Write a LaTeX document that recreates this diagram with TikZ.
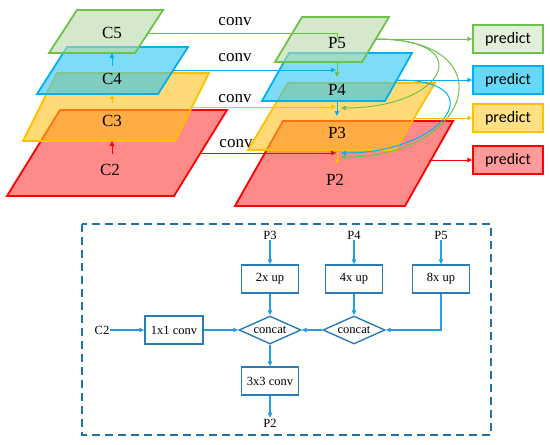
\documentclass[tikz,border=0pt]{standalone}
\usepackage{fontspec}
\setmainfont{Liberation Serif}
\newfontfamily\predfont{Carlito}
\usetikzlibrary{arrows.meta, positioning, shapes.geometric, calc}
\definecolor{cgreen}{HTML}{6CC24A}
\definecolor{cgreenf}{HTML}{B9D9AA}
\definecolor{cgreenp}{HTML}{E2F0D9}
\definecolor{cblue}{HTML}{00B0F0}
\definecolor{cbluef}{HTML}{2AC5F3}
\definecolor{cbluep}{HTML}{66D9F8}
\definecolor{cyellow}{HTML}{FFC000}
\definecolor{cyellowf}{HTML}{FFC21A}
\definecolor{cyellowp}{HTML}{FFE082}
\definecolor{cred}{HTML}{FF0000}
\definecolor{credf}{HTML}{FF3C3C}
\definecolor{credp}{HTML}{FF9A9A}
\definecolor{cbox}{HTML}{2A7DB4}
\definecolor{cflow}{HTML}{1FA0E0}
\definecolor{cframe}{HTML}{2272A8}
\tikzset{
  plane/.style={draw=c#1, fill=c#1f, fill opacity=0.6, line width=1.8pt},
  lbl/.style={font=\fontsize{17}{19}\selectfont, inner sep=2pt},
  link/.style={draw=#1, line width=1pt, -{Triangle[length=5pt, width=4.5pt]}},
  pred/.style={draw=c#1, fill=c#1p, line width=1.5pt, minimum width=70pt, minimum height=28pt, inner sep=0pt, font=\predfont\fontsize{16}{18}\selectfont},
  small/.style={font=\fontsize{12.5}{14}\selectfont, inner sep=1pt},
  opbox/.style={draw=cbox, line width=1.4pt, minimum width=57pt, minimum height=28pt, inner sep=0pt, font=\fontsize{12.5}{14}\selectfont},
  opdia/.style={diamond, draw=cbox, line width=1.4pt, minimum width=62pt, minimum height=28pt, aspect=2.2, inner sep=0pt, font=\fontsize{12.5}{14}\selectfont},
  flow/.style={draw=cflow, line width=1.1pt, -{Triangle[length=5pt, width=4.5pt]}},
  frame/.style={draw=cframe, line width=1.8pt, dash pattern=on 8pt off 5pt},
}
% one feature map: colour, top-left x, top y, bottom-left x, bottom y, width
\newcommand{\layer}[6]{\draw[plane=#1] (#2,#3) -- ++(#6,0) -- ({#4+#6},#5) -- (#4,#5) -- cycle;}

\begin{document}
\begin{tikzpicture}[x=1pt, y=-1pt]
  \useasboundingbox (0,0) rectangle (550,445);
  % backbone
  \layer{red}{60}{110}{7}{196}{167}
  \layer{yellow}{57}{73}{23}{141}{152}
  \layer{blue}{67}{47}{37}{94}{121}
  \layer{green}{77}{10}{49}{53}{86}
  \node[lbl] (c2) at (110,170) {C2};
  \node[lbl] (c3) at (112,121) {C3};
  \node[lbl] (c4) at (112,79) {C4};
  \node[lbl] (c5) at (112,33) {C5};
  \coordinate (c2up) at (112,154); \coordinate (c3lo) at (112,141);
  \coordinate (c3up) at (112,103); \coordinate (c4lo) at (112,94);
  \coordinate (c4up) at (112,66);  \coordinate (c5lo) at (112,53);
  \draw[link=cred] (c2up) -- (c3lo);
  \draw[link=cyellow] (c3up) -- (c4lo);
  \draw[link=cblue] (c4up) -- (c5lo);
  % pyramid
  \layer{red}{283}{121}{235}{206}{170}
  \layer{yellow}{288}{83}{248}{150}{147}
  \layer{blue}{289}{53}{262}{101}{123}
  \layer{green}{302}{17}{275}{62}{87}
  \node[lbl] (p2) at (335,180) {P2};
  \node[lbl] (p3) at (337,133) {P3};
  \node[lbl] (p4) at (337,90) {P4};
  \node[lbl] (p5) at (337,43) {P5};
  % lateral conv
  \coordinate (c5e) at (149,33); \coordinate (c4e) at (173,70);
  \coordinate (c3e) at (191,107); \coordinate (c2e) at (200,153);
  \coordinate (p5top) at (337,38); \coordinate (p4in) at (336,70);
  \coordinate (p3in) at (336,107); \coordinate (p2in) at (336,153);
  \draw[link=cgreen, -] (c5e) -| (p5top);
  \draw[link=cblue] (c4e) -- (p4in);
  \draw[link=cyellow] (c3e) -- (p3in);
  \draw[link=cred] (c2e) -- (p2in);
  \node[lbl] (k5) at (235,22) {conv};
  \node[lbl] (k4) at (235,58) {conv};
  \node[lbl] (k3) at (235,99) {conv};
  \node[lbl] (k2) at (236,144) {conv};
  % top-down
  \coordinate (p5lo) at (337,62);  \coordinate (p4hi) at (337,77);
  \coordinate (p4lo) at (337,101); \coordinate (p3hi) at (337,116);
  \coordinate (p3lo) at (337,150); \coordinate (p2hi) at (337,164);
  \draw[link=cgreen] (p5lo) -- (p4hi);
  \draw[link=cblue] (p4lo) -- (p3hi);
  \draw[link=cyellow] (p3lo) -- (p2hi);
  \coordinate (p5r) at (376,39); \coordinate (p4r) at (397,80);
  \coordinate (p3r) at (414,118); \coordinate (p2r) at (429,160);
  \coordinate (p3c) at (341,108); \coordinate (p2c) at (341,153); \coordinate (p2g) at (341,157);
  \draw[link=cgreen] (p5r) .. controls (480,39) and (445,108) .. (p3c);
  \draw[link=cgreen] (p5r) .. controls (506,39) and (474,157) .. (p2g);
  \draw[link=cblue] (p4r) .. controls (496,80) and (444,153) .. (p2c);
  % heads
  \node[pred=green] (pr5) at (508,39) {predict};
  \node[pred=blue] (pr4) at (508,80) {predict};
  \node[pred=yellow] (pr3) at (508,118) {predict};
  \node[pred=red] (pr2) at (508,160) {predict};
  \draw[link=cgreen] (p5r) -- (p5r -| pr5.west);
  \draw[link=cblue] (p4r) -- (p4r -| pr4.west);
  \draw[link=cyellow] (p3r) -- (p3r -| pr3.west);
  \draw[link=cred] (p2r) -- (p2r -| pr2.west);
  % fusion detail
  \draw[frame] (82,224) rectangle (491,435);
  \node[small] (b3) at (270,235) {P3};
  \node[opbox] (up2) at (270,279) {2x up};
  \node[opdia] (cat1) at (270,330) {concat};
  \node[opbox] (cv3) at (270,381) {3x3 conv};
  \node[small] (b2out) at (270,423) {P2};
  \node[small] (b2in) at (102,330) {C2};
  \node[opbox, minimum width=58pt] (cv1) at (174,330) {1x1 conv};
  \node[small] (b4) at (354,235) {P4};
  \node[opbox] (up4) at (354,279) {4x up};
  \node[opdia] (cat2) at (354,330) {concat};
  \node[small] (b5) at (441,235) {P5};
  \node[opbox] (up8) at (441,279) {8x up};
  \draw[flow] (b3) -- (up2);
  \draw[flow] (up2) -- (cat1);
  \draw[flow] (cat1) -- (cv3);
  \draw[flow] (cv3) -- (b2out);
  \draw[flow] (b2in) -- (cv1);
  \draw[flow] (cv1) -- (cat1);
  \draw[flow] (cat2) -- (cat1);
  \draw[flow] (b4) -- (up4);
  \draw[flow] (up4) -- (cat2);
  \draw[flow] (b5) -- (up8);
  \draw[flow] (up8) |- (cat2);
\end{tikzpicture}
\end{document}
